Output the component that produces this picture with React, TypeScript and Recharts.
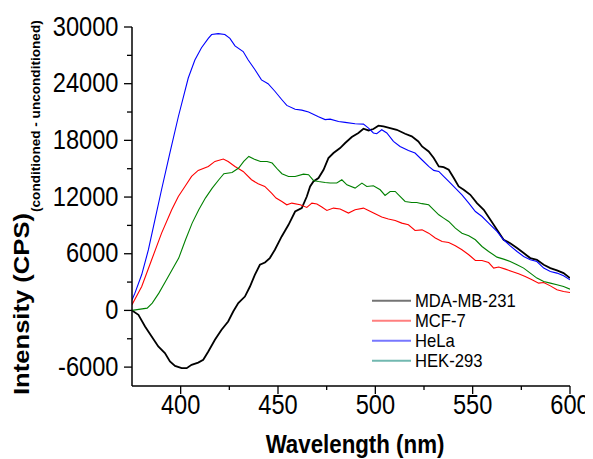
import { LineChart, Line, XAxis, YAxis, Legend } from "recharts";

// [wavelength nm, intensity CPS]
const mdaMb231: [number, number][] = [
  [375, 0], [378.3, -470], [381.7, -1700], [385.1, -2760], [388.5, -3820], [391.9, -4520],
  [394.5, -5410], [397.1, -5870], [400.5, -6110], [403.1, -6110], [405.6, -5760], [409, -5520],
  [411.6, -5230], [414.2, -4350], [417.6, -3110], [421, -2050], [424.4, -1170], [427, -120],
  [429.6, 770], [433, 1470], [435.6, 2530], [438.1, 3770], [440.7, 4830], [443.3, 5070],
  [445.8, 5540], [448.4, 6420], [451.9, 7830], [455.4, 9060], [458.8, 10470], [462.2, 10830],
  [464.8, 12060], [466.5, 13120], [468.2, 13650], [470.8, 14010], [473.4, 14890], [475.9, 16130],
  [478.5, 16660], [481.9, 17190], [484.5, 17720], [487.9, 18350], [491.3, 18780], [493.9, 19230],
  [496.5, 19050], [499, 19200], [501.6, 19550], [504.2, 19480], [507.6, 19300], [511, 19120],
  [515.3, 18700], [518.7, 18420], [522.1, 17890], [524, 17360], [527.4, 16830], [530, 16130],
  [532.6, 15240], [535.1, 15170], [537.7, 14890], [540.3, 14010], [542.8, 13120], [545.4, 12770],
  [548.8, 12240], [552.2, 11360], [555.7, 10650], [559.1, 9590], [562.5, 8530], [565.9, 7480],
  [569.3, 7120], [572.8, 6600], [576.2, 6070], [579.6, 5540], [583, 5360], [586.5, 4830],
  [589.9, 4480], [593.3, 4230], [596.7, 3950], [600, 3420],
];

const mcf7: [number, number][] = [
  [375, 600], [380, 2530], [385.1, 5360], [390.2, 8180], [395.4, 10650], [398.8, 12060],
  [402.2, 13120], [405.6, 14180], [409, 14820], [414.2, 15240], [417.6, 15770], [421.9, 16020],
  [424.4, 15770], [427.9, 15240], [432.1, 14710], [436.4, 13830], [439.8, 13400], [443.2, 13120],
  [446.7, 12420], [449, 11900], [452, 11530], [454.5, 11180], [457.1, 11360], [461.4, 11180],
  [464.8, 10900], [467.4, 11360], [470, 11260], [472.5, 10940], [475.1, 10580], [478.5, 10830],
  [481.9, 10730], [486.2, 10300], [489.6, 10650], [493.9, 10830], [496.5, 10580], [499.9, 10230],
  [503.3, 9880], [506.7, 9670], [510.2, 9520], [513.6, 9240], [517, 9070], [520.4, 8460],
  [524, 8530], [527.4, 8180], [530.8, 7660], [534.3, 7300], [537.7, 7190], [541.1, 6840],
  [544.5, 6420], [548, 5890], [551.4, 5280], [554.8, 5280], [558.2, 5070], [560.8, 4480],
  [563.4, 4590], [566.8, 4370], [570.2, 4120], [573.6, 3880], [577, 3590], [580.5, 3240],
  [583.9, 2890], [586.5, 2950], [589.9, 2600], [593.3, 2180], [596.7, 2000], [600, 1900],
];

const hela: [number, number][] = [
  [375, 1100], [376.5, 1830], [380, 3800], [383.4, 6400], [386.8, 9600], [390.2, 12800],
  [394.5, 16700], [398.8, 20500], [403.9, 24600], [407.3, 26500], [410.7, 27800], [414.2, 28800],
  [415.9, 29200], [419.3, 29300], [422.7, 29200], [425.3, 28800], [427.9, 28000], [432.1, 27400],
  [434.7, 26500], [438.1, 25500], [441.5, 24400], [444.9, 24000], [448.4, 23200], [452, 22300],
  [454.5, 21700], [458.8, 21300], [462.2, 21200], [465.7, 21000], [470.8, 20500], [474.2, 20200],
  [476.8, 20250], [481.1, 20000], [484.5, 19900], [489.6, 19760], [493.9, 19720], [496.5, 19300],
  [499, 18780], [500.7, 18700], [503.3, 19120], [505.9, 18780], [509.3, 17900], [512.7, 17360],
  [517, 16930], [520.4, 16660], [523.9, 15950], [527.4, 15240], [530, 14820], [532.6, 14710],
  [535.1, 14180], [537.7, 13650], [541.1, 12950], [544.5, 12240], [548, 11360], [551.4, 10470],
  [554.8, 9940], [558.2, 9240], [562.5, 8360], [565.9, 7480], [569.3, 6840], [572.8, 6240],
  [576.2, 5710], [579.6, 5360], [583, 5180], [586.5, 4480], [589.9, 4120], [593.3, 3950],
  [596.7, 3660], [600, 3240],
];

const hek293: [number, number][] = [
  [375, 0], [382.8, 240], [385.4, 770], [388.8, 1830], [392.2, 3060], [395.6, 4300],
  [399, 5540], [402.5, 7480], [405.9, 9240], [409.3, 10650], [412.7, 11890], [416.2, 12950],
  [419.6, 13830], [422.2, 14470], [426.4, 14600], [429.8, 15070], [432.4, 15770], [435, 16300],
  [437.6, 16020], [441, 15770], [444.4, 15770], [447, 15600], [450, 14890], [452, 14470],
  [455.4, 14180], [458.8, 14180], [463.1, 14430], [465.7, 14360], [468.2, 13760], [470.8, 13650],
  [474.2, 13540], [476.8, 13480], [480.2, 13480], [482.8, 13830], [485.4, 13300], [489.6, 12950],
  [493.1, 13480], [495.6, 13120], [499, 13190], [502.5, 12770], [505, 12170], [507.6, 12590],
  [510.2, 12590], [512.7, 12060], [515.3, 11530], [518.7, 11430], [521.3, 11430], [524, 11300],
  [527.4, 11180], [530, 10650], [532.6, 10120], [535.1, 9770], [537.7, 9420], [541.1, 8710],
  [544.5, 8180], [548, 7900], [551.4, 7480], [554.8, 6770], [558.2, 6240], [562.5, 5640],
  [565.9, 5430], [569.3, 5180], [572.8, 4830], [576.2, 4480], [579.6, 3950], [583, 3420],
  [586.5, 3060], [589.9, 2890], [593.3, 2710], [596.7, 2530], [600, 2250],
];

const seriesNames = ["MDA-MB-231", "MCF-7", "HeLa", "HEK-293"];
const lineColors = ["#000000", "#ff0000", "#0000ff", "#008000"];
const legendColors = ["#747474", "#ff7f7f", "#7777ff", "#72b8b0"];

const xTicks = [400, 425, 450, 475, 500, 525, 550, 575, 600];
const yTicks = [-6000, -3000, 0, 3000, 6000, 9000, 12000, 15000, 18000, 21000, 24000, 27000, 30000];

const FONT = "'Liberation Sans', Arial, sans-serif";
const SQUEEZE = 0.875;

const toPoints = (pts: [number, number][]) => pts.map(([nm, cps]) => ({ nm, cps }));
const allSeries = [mdaMb231, mcf7, hela, hek293].map(toPoints);

const XTick = (props: any) => {
  const { x, y, payload } = props;
  const major = payload.value % 50 === 0;
  return (
    <g>
      <line x1={x} x2={x} y1={y} y2={y + (major ? 8 : 4)} stroke="#000" strokeWidth={1.3} />
      {major && (
        <text
          transform={`translate(${x},${y + 28}) scale(${SQUEEZE},1)`}
          textAnchor="middle"
          fontSize={27}
          fontFamily={FONT}
          fill="#000"
        >
          {payload.value}
        </text>
      )}
    </g>
  );
};

const YTick = (props: any) => {
  const { x, y, payload } = props;
  const major = payload.value % 6000 === 0;
  return (
    <g>
      <line x1={x - (major ? 8 : 5)} x2={x} y1={y} y2={y} stroke="#000" strokeWidth={1.3} />
      {major && (
        <text
          transform={`translate(${x - 13.5},${y + 8.5}) scale(${SQUEEZE},1)`}
          textAnchor="end"
          fontSize={27}
          fontFamily={FONT}
          fill="#000"
        >
          {payload.value}
        </text>
      )}
    </g>
  );
};

const YTitle = () => (
  <text
    transform={`translate(20.6,387) scale(${SQUEEZE},1) rotate(-90)`}
    fontFamily={FONT}
    fontWeight="bold"
    fontSize={25.6}
    fill="#000"
  >
    Intensity (CPS)
    <tspan fontSize={13.6} dy={12.5} dx={1}>
      (conditioned - unconditioned)
    </tspan>
  </text>
);

const XTitle = () => (
  <text
    transform={`translate(347,445) scale(${SQUEEZE},1)`}
    textAnchor="middle"
    fontFamily={FONT}
    fontWeight="bold"
    fontSize={25.5}
    fill="#000"
  >
    Wavelength (nm)
  </text>
);

const LegendBox = () => (
  <svg width={170} height={84} style={{ display: "block" }}>
    {seriesNames.map((name, i) => (
      <g key={name}>
        <line x1={1} x2={40} y1={10.7 + i * 20} y2={10.7 + i * 20} stroke={legendColors[i]} strokeWidth={2} />
        <text
          transform={`translate(44,${16.9 + i * 20}) scale(${SQUEEZE},1)`}
          fontFamily={FONT}
          fontSize={19}
          fill="#000"
        >
          {name}
        </text>
      </g>
    ))}
  </svg>
);

export default function App() {
  return (
    <LineChart width={585} height={451} margin={{ top: 19, right: 23, left: 0, bottom: 0 }}>
      <XAxis
        dataKey="nm"
        type="number"
        domain={[375, 600]}
        ticks={xTicks}
        allowDataOverflow
        height={73}
        tickSize={0}
        tickMargin={0}
        tickLine={false}
        axisLine={{ stroke: "#000", strokeWidth: 1.5 }}
        tick={<XTick />}
        interval={0}
        label={<XTitle />}
      />
      <YAxis
        type="number"
        domain={[-8000, 30000]}
        ticks={yTicks}
        allowDataOverflow
        width={124}
        tickSize={0}
        tickMargin={0}
        tickLine={false}
        axisLine={{ stroke: "#000", strokeWidth: 1.5 }}
        tick={<YTick />}
        interval={0}
        label={<YTitle />}
      />
      {allSeries.map((pts, i) => (
        <Line
          key={seriesNames[i]}
          data={pts}
          dataKey="cps"
          name={seriesNames[i]}
          type="linear"
          stroke={lineColors[i]}
          strokeWidth={i === 0 ? 1.8 : 1.1}
          dot={false}
          activeDot={false}
          isAnimationActive={false}
        />
      ))}
      <Legend
        layout="vertical"
        align="center"
        verticalAlign="middle"
        content={() => <LegendBox />}
        wrapperStyle={{ left: 363, top: 282, width: 170 }}
      />
    </LineChart>
  );
}
